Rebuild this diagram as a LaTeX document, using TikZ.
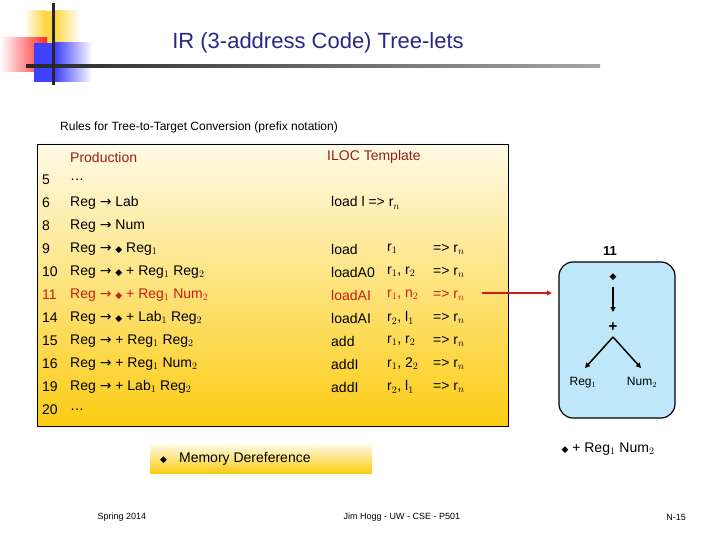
\documentclass[tikz,border=0pt]{standalone}
\usepackage{fontspec}
\setmainfont{Liberation Sans}
\newfontfamily\djfont{DejaVu Sans}
\usetikzlibrary{arrows.meta}
\definecolor{ttl}{RGB}{40,40,130}
\definecolor{hdr}{RGB}{150,30,20}
\definecolor{hl}{RGB}{200,30,20}
\definecolor{lblue}{RGB}{190,232,250}
\definecolor{gold}{RGB}{252,204,20}
\definecolor{pale}{RGB}{255,250,230}
\newcommand{\dm}{{\djfont\small ◆}}
\newcommand{\ar}{{\djfont →}}
\tikzset{row/.style={anchor=west,inner sep=0pt,font=\fontsize{14}{14}\selectfont},
 foot/.style={inner sep=0pt,font=\fontsize{9}{9}\selectfont}}
\begin{document}
\begin{tikzpicture}[x=1pt,y=-1pt]
\useasboundingbox (0,0) rectangle (720,540);
% decoration
\fill[left color=white, right color=gold!80] (24,11) rectangle (45,43);
\fill[gold!80] (45,11) rectangle (55,43);
\fill[left color=gold!80, right color=white] (55,11) rectangle (80,43);
\fill[left color=white, right color=red!85] (0,38) rectangle (47,72);
\fill[blue!75] (34,43) rectangle (55,82);
\fill[left color=blue!75, right color=white] (55,43) rectangle (92,82);
\shade[left color=black!85, right color=black!35] (26,65) rectangle (600,67.5);
\fill[black!85] (52,3) rectangle (55,85);
\node[inner sep=0pt,text=ttl,font=\fontsize{22}{22}\selectfont] (title) at (318,43) {IR (3-address Code) Tree-lets};
\node[inner sep=0pt,font=\fontsize{12}{12}\selectfont,anchor=west] (sub) at (60,127) {Rules for Tree-to-Target Conversion (prefix notation)};
% table
\shade[draw=black,top color=pale,bottom color=gold] (37,144) rectangle (508,426);
\node[row,text=hdr] (h1) at (70,157) {Production};
\node[row,text=hdr] (h2) at (327,157) {ILOC Template};
\foreach \n/\y/\p in {5/180/{\dots},6/203/{Reg \ar{} Lab},8/226/{Reg \ar{} Num},9/249/{Reg \ar{} \dm{} Reg$_1$},10/272/{Reg \ar{} \dm{} + Reg$_1$ Reg$_2$},14/318/{Reg \ar{} \dm{} + Lab$_1$ Reg$_2$},15/341/{Reg \ar{} + Reg$_1$ Reg$_2$},16/364/{Reg \ar{} + Reg$_1$ Num$_2$},19/387/{Reg \ar{} + Lab$_1$ Reg$_2$},20/410/{\dots}}{
 \node[row] (n\n) at (42,\y) {\n};
 \node[row] (p\n) at (70,\y) {\p};
}
\node[row,text=hl] (n11) at (42,295) {11};
\node[row,text=hl] (p11) at (70,295) {Reg \ar{} \dm{} + Reg$_1$ Num$_2$};
\node[row] (i6) at (331,203) {load l => r$_n$};
\foreach \y/\op/\a/\i in {249/load/r$_1$/9,272/loadA0/{r$_1$, r$_2$}/10,318/loadAI/{r$_2$, l$_1$}/14,341/add/{r$_1$, r$_2$}/15,364/addI/{r$_1$, 2$_2$}/16,387/addI/{r$_2$, l$_1$}/19}{
 \node[row] (o\i) at (331,\y) {\op};
 \node[row] (a\i) at (387,\y) {\a};
 \node[row] (r\i) at (433,\y) {=> r$_n$};
}
\node[row,text=hl] (o11) at (331,295) {loadAI};
\node[row,text=hl] (a11) at (387,295) {r$_1$, n$_2$};
\node[row,text=hl] (r11) at (433,295) {=> r$_n$};
% tree
\draw[black,line width=1.2pt,fill=lblue,rounded corners=14pt] (559,262) rectangle (675,418);
\coordinate (ae) at (482,293);
\coordinate (af) at (552,293);
\draw[hl,line width=1.4pt,-{Triangle[length=5pt,width=5pt]}] (ae) -- (af);
\node[inner sep=0pt,font=\fontsize{13}{13}\selectfont\bfseries] (t11) at (610,251) {11};
\node[inner sep=1pt,font=\djfont\small] (td) at (613,277) {◆};
\node[inner sep=1pt,font=\fontsize{15}{15}\selectfont\bfseries] (tp) at (613,327) {+};
\node[inner sep=1pt,font=\fontsize{12}{12}\selectfont] (tr) at (583,383) {Reg$_1$};
\node[inner sep=1pt,font=\fontsize{12}{12}\selectfont] (tn) at (642,382) {Num$_2$};
\draw[line width=1.5pt,-{Triangle[length=5pt,width=5pt]}] (613,287) -- (613,312);
\draw[line width=1.5pt,-{Triangle[length=5pt,width=5pt]}] (613,337) -- (585,368);
\draw[line width=1.5pt,-{Triangle[length=5pt,width=5pt]}] (613,337) -- (641,368);
\node[inner sep=0pt,font=\fontsize{14}{14}\selectfont] (expr) at (608,449) {\dm{} + Reg$_1$ Num$_2$};
% memory dereference
\shade[top color=pale,bottom color=gold] (150,444) rectangle (372,473);
\node[inner sep=0pt,anchor=west,font=\fontsize{14}{14}\selectfont] (md) at (160,459) {\dm\hspace{12pt}Memory Dereference};
% footer
\node[foot] (f1) at (122,517) {Spring 2014};
\node[foot] (f2) at (402,517) {Jim Hogg - UW - CSE - P501};
\node[foot] (f3) at (676,517) {N-15};
\end{tikzpicture}
\end{document}
